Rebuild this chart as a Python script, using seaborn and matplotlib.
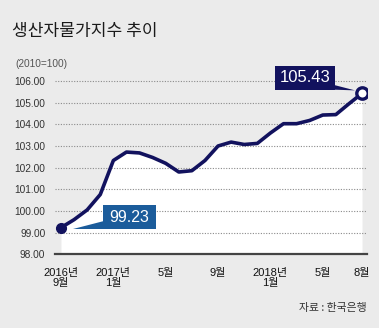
import numpy as np
import pandas as pd
import matplotlib
matplotlib.use("Agg")
import matplotlib.pyplot as plt
import seaborn as sns
from matplotlib.patches import Rectangle, Polygon
from matplotlib.transforms import IdentityTransform

# ---- data ----
months = ["2016-09", "2016-10", "2016-11", "2016-12",
          "2017-01", "2017-02", "2017-03", "2017-04", "2017-05", "2017-06",
          "2017-07", "2017-08", "2017-09", "2017-10", "2017-11", "2017-12",
          "2018-01", "2018-02", "2018-03", "2018-04", "2018-05", "2018-06",
          "2018-07", "2018-08"]
ppi = [99.23, 99.60, 100.05, 100.76,
       102.33, 102.72, 102.68, 102.47, 102.20, 101.80,
       101.86, 102.33, 103.00, 103.18, 103.07, 103.12,
       103.60, 104.03, 104.03, 104.18, 104.43, 104.45,
       104.95, 105.43]
tick_months = ["2016-09", "2017-01", "2017-05", "2017-09", "2018-01", "2018-05", "2018-08"]
tick_labels = ["2016년\n9월", "2017년\n1월", "5월", "9월", "2018년\n1월", "5월", "8월"]
y_ticks = [98, 99, 100, 101, 102, 103, 104, 105, 106]
title = "생산자물가지수 추이"
unit = "(2010=100)"
source = "자료 : 한국은행"
first_label = "99.23"
last_label = "105.43"

BG = "#ebebeb"
NAVY = "#12125e"
BLUE = "#1b5c9b"

sns.set_style("white")
plt.rcParams['font.family'] = ['Liberation Sans', 'Noto Sans CJK KR', 'DejaVu Sans']

W, H = 379, 328
fig = plt.figure(figsize=(W / 100, H / 100), dpi=100, facecolor=BG)
ax = fig.add_axes([55 / W, 73.7 / H, 312 / W, 184.1 / H])
ax.set_facecolor(BG)

df = pd.DataFrame({"month": months, "ppi": ppi})
df["idx"] = np.arange(len(df))

ax.fill_between(df["idx"], df["ppi"], y_ticks[0], color="white", lw=0, zorder=1)
sns.lineplot(data=df, x="idx", y="ppi", ax=ax, color=NAVY, lw=2.6, zorder=3)
for ln in ax.lines:
    ln.set_solid_joinstyle("round")
    ln.set_solid_capstyle("round")
ax.plot(df["idx"].iloc[0], df["ppi"].iloc[0], "o", ms=7.0, color=NAVY, zorder=4)
ax.plot(df["idx"].iloc[-1], df["ppi"].iloc[-1], "o", ms=8.2, mfc="white",
        mec=NAVY, mew=2.4, zorder=4)

ax.set_xlim(-0.458, len(df) - 1 + 0.38)
ax.set_ylim(98, 106.5)
ax.set_yticks(y_ticks)
ax.set_yticklabels([f"{v:.2f}" for v in y_ticks])
tick_pos = [months.index(m) for m in tick_months]
ax.set_xticks(tick_pos)
ax.set_xticklabels(tick_labels, linespacing=0.95, va="top")
ax.set_xlabel("")
ax.set_ylabel("")

for s in ["top", "right", "left"]:
    ax.spines[s].set_visible(False)
ax.spines["bottom"].set_color("#444444")
ax.spines["bottom"].set_linewidth(1.6)
ax.spines["bottom"].set_zorder(5)

ax.tick_params(axis="x", length=6.5, width=1.5, color="#444444", direction="out",
               pad=3.5, labelsize=8, labelcolor="#111111")
ax.tick_params(axis="y", length=0, pad=7.0, labelsize=7.3, labelcolor="#333333")

ax.set_axisbelow("line")
ax.yaxis.grid(True, color="#8a8a8a", lw=0.8, linestyle=(0, (1, 1.4)))
ax.xaxis.grid(False)

# ---- texts ----
fig.text(12 / W, 1 - 31 / H, title, fontsize=12.3, color="#1a1a1a", weight="medium",
         family=["Noto Sans CJK KR", "DejaVu Sans"], va="center", ha="left")
fig.text(15 / W, 1 - 64 / H, unit, fontsize=7.3, color="#555555", va="center", ha="left")
fig.text(367 / W, 1 - 308 / H, source, fontsize=7.8, color="#333333",
         family=["Noto Sans CJK KR", "DejaVu Sans"], va="center", ha="right")

# ---- callouts (display pixel coordinates relative to data points) ----
fig.canvas.draw()
ident = IdentityTransform()
p0 = ax.transData.transform((df["idx"].iloc[0], df["ppi"].iloc[0]))
p1 = ax.transData.transform((df["idx"].iloc[-1], df["ppi"].iloc[-1]))

# first point callout
bx0, by0, bw0, bh0 = p0[0] + 42, p0[1] - 1.7, 53, 24
ax.add_patch(Polygon([(p0[0] + 43, p0[1] + 6.3), (p0[0] + 43, p0[1] - 1.7),
                      (p0[0] + 12, p0[1] - 1.7)], closed=True, color=BLUE,
                     transform=ident, clip_on=False, zorder=6, lw=0))
ax.add_patch(Rectangle((bx0, by0), bw0, bh0, color=BLUE, transform=ident,
                       clip_on=False, zorder=6, lw=0))
ax.text(bx0 + bw0 / 2, by0 + bh0 / 2, first_label, transform=ident, color="white",
        fontsize=11.5, ha="center", va="center", zorder=7)

# last point callout
bx1, by1, bw1, bh1 = p1[0] - 87, p1[1] + 3.7, 60, 24
ax.add_patch(Polygon([(p1[0] - 28, p1[1] + 8.4), (p1[0] - 28, p1[1] + 3.7),
                      (p1[0] - 7, p1[1] + 3.0)], closed=True, color=NAVY,
                     transform=ident, clip_on=False, zorder=6, lw=0))
ax.add_patch(Rectangle((bx1, by1), bw1, bh1, color=NAVY, transform=ident,
                       clip_on=False, zorder=6, lw=0))
ax.text(bx1 + bw1 / 2, by1 + bh1 / 2, last_label, transform=ident, color="white",
        fontsize=12, ha="center", va="center", zorder=7)

fig.savefig("out.png", dpi=100, facecolor=BG)
